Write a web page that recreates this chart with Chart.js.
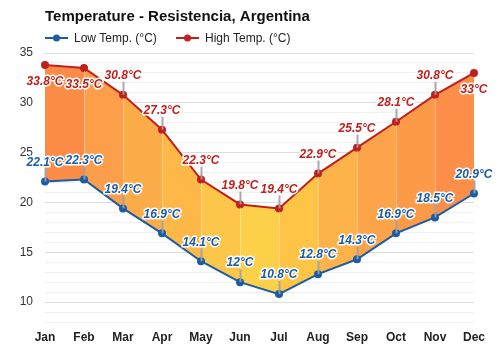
<!DOCTYPE html>
<html>
<head>
<meta charset="utf-8">
<script src="https://cdn.jsdelivr.net/npm/chart.js@4"></script>
<style>
html,body{margin:0;padding:0;background:#fff;}
#wrap{width:500px;height:350px;position:relative;}
</style>
</head>
<body>
<div id="wrap"><canvas id="c"></canvas></div>
<script>
const months = ['Jan','Feb','Mar','Apr','May','Jun','Jul','Aug','Sep','Oct','Nov','Dec'];
const lowTemps = [22.1, 22.3, 19.4, 16.9, 14.1, 12, 10.8, 12.8, 14.3, 16.9, 18.5, 20.9];
const highTemps = [33.8, 33.5, 30.8, 27.3, 22.3, 19.8, 19.4, 22.9, 25.5, 28.1, 30.8, 33];
const lowLabels = ['22.1°C','22.3°C','19.4°C','16.9°C','14.1°C','12°C','10.8°C','12.8°C','14.3°C','16.9°C','18.5°C','20.9°C'];
const highLabels = ['33.8°C','33.5°C','30.8°C','27.3°C','22.3°C','19.8°C','19.4°C','22.9°C','25.5°C','28.1°C','30.8°C','33°C'];
const highBelow = [true, true, false, false, false, false, false, false, false, false, false, true];
const bandColors = ['#fb8c46','#fd9e4a','#fdac4a','#fdb848','#fcc64a','#fdd04a','#fec445','#fdb34a','#fda44a','#fc9a48','#fb8f4a'];
const yTickValues = [10, 15, 20, 25, 30, 35];

const LOW_COLOR = '#1a5da6';
const HIGH_COLOR = '#c0201e';
const FONT = '"Liberation Sans", Arial, sans-serif';

function bandGradient(ctx) {
  const chart = ctx.chart;
  const a = chart.chartArea;
  if (!a) return bandColors[0];
  const g = chart.ctx.createLinearGradient(a.left, 0, a.right, 0);
  const n = bandColors.length;
  bandColors.forEach((c, i) => {
    g.addColorStop(i / n, c);
    g.addColorStop(Math.max(i / n, (i + 1) / n - 0.0005), c);
  });
  return g;
}

const overlayPlugin = {
  id: 'overlay',
  afterDatasetsDraw(chart) {
    const ctx = chart.ctx;
    const xs = chart.scales.x, ys = chart.scales.y;
    ctx.save();
    ctx.strokeStyle = 'rgba(255,255,255,0.35)';
    ctx.lineWidth = 1;
    for (let i = 1; i < months.length - 1; i++) {
      const x = Math.round(xs.getPixelForValue(i)) + 0.5;
      ctx.beginPath();
      ctx.moveTo(x, ys.getPixelForValue(highTemps[i]) + 3);
      ctx.lineTo(x, ys.getPixelForValue(lowTemps[i]) - 3);
      ctx.stroke();
    }
    ctx.strokeStyle = 'rgba(160,160,160,0.9)';
    ctx.lineWidth = 2;
    for (let i = 0; i < months.length; i++) {
      const x = Math.round(xs.getPixelForValue(i)) + 0.5;
      if (!highBelow[i]) {
        const y = ys.getPixelForValue(highTemps[i]);
        ctx.beginPath(); ctx.moveTo(x, y); ctx.lineTo(x, y - 13); ctx.stroke();
      }
      const yl = ys.getPixelForValue(lowTemps[i]);
      ctx.beginPath(); ctx.moveTo(x, yl); ctx.lineTo(x, yl - 13); ctx.stroke();
    }
    ctx.restore();
  },
  afterDraw(chart) {
    const ctx = chart.ctx;
    const xs = chart.scales.x, ys = chart.scales.y;
    ctx.save();
    ctx.font = 'italic bold 12px ' + FONT;
    ctx.textAlign = 'center';
    ctx.textBaseline = 'middle';
    ctx.lineJoin = 'round';
    ctx.lineWidth = 3;
    ctx.strokeStyle = '#ffffff';
    for (let i = 0; i < months.length; i++) {
      const x = xs.getPixelForValue(i);
      const yh = ys.getPixelForValue(highTemps[i]);
      const th = highBelow[i] ? yh + 17 : yh - 19;
      ctx.strokeText(highLabels[i], x, th);
      ctx.fillStyle = HIGH_COLOR;
      ctx.fillText(highLabels[i], x, th);
      const yl = ys.getPixelForValue(lowTemps[i]);
      const tl = yl - 19;
      ctx.strokeText(lowLabels[i], x, tl);
      ctx.fillStyle = LOW_COLOR;
      ctx.fillText(lowLabels[i], x, tl);
    }
    ctx.textAlign = 'left';
    ctx.font = 'bold 15px ' + FONT;
    ctx.fillStyle = '#111';
    ctx.fillText('Temperature - Resistencia, Argentina', 45, 17);
    ctx.font = '12px ' + FONT;
    const items = [
      { label: chart.data.datasets[0].label, color: LOW_COLOR, x: 45 },
      { label: chart.data.datasets[1].label, color: HIGH_COLOR, x: 176 }
    ];
    items.forEach(it => {
      ctx.strokeStyle = it.color; ctx.lineWidth = 2;
      ctx.beginPath(); ctx.moveTo(it.x, 38); ctx.lineTo(it.x + 23, 38); ctx.stroke();
      ctx.fillStyle = it.color;
      ctx.beginPath(); ctx.arc(it.x + 11.5, 38, 3.5, 0, Math.PI * 2); ctx.fill();
      ctx.fillStyle = '#222';
      ctx.fillText(it.label, it.x + 29, 38.5);
    });
    ctx.restore();
  }
};

new Chart(document.getElementById('c'), {
  type: 'line',
  data: {
    labels: months,
    datasets: [
      {
        label: 'Low Temp. (°C)',
        data: lowTemps,
        borderColor: LOW_COLOR,
        backgroundColor: LOW_COLOR,
        pointBackgroundColor: LOW_COLOR,
        pointBorderColor: LOW_COLOR,
        borderWidth: 2,
        pointRadius: 3,
        fill: false,
        tension: 0
      },
      {
        label: 'High Temp. (°C)',
        data: highTemps,
        borderColor: HIGH_COLOR,
        backgroundColor: bandGradient,
        pointBackgroundColor: HIGH_COLOR,
        pointBorderColor: HIGH_COLOR,
        borderWidth: 2,
        pointRadius: 3,
        fill: '-1',
        tension: 0
      }
    ]
  },
  options: {
    responsive: true,
    maintainAspectRatio: false,
    animation: false,
    layout: { padding: { top: 53, right: 26, bottom: 0, left: 0 } },
    plugins: {
      legend: { display: false },
      title: { display: false },
      tooltip: { enabled: false },
      filler: { propagate: false }
    },
    scales: {
      x: {
        offset: false,
        afterFit(scale) { scale.height = 28; },
        grid: { display: false, drawTicks: false },
        border: { display: false },
        ticks: {
          padding: 8,
          color: '#222',
          font: { family: FONT, size: 12, weight: 'bold' },
          maxRotation: 0, autoSkip: false
        }
      },
      y: {
        min: 8,
        max: 35,
        afterFit(scale) { scale.width = 45; },
        grid: {
          drawTicks: false,
          color: (c) => (c.tick && yTickValues.includes(c.tick.value)) ? '#dcdcdc' : '#efefef',
          lineWidth: 1
        },
        border: { display: false },
        ticks: {
          stepSize: 1,
          autoSkip: false,
          padding: 12,
          color: '#333',
          font: { family: FONT, size: 12 },
          callback: (v) => yTickValues.includes(v) ? String(v) : ''
        }
      }
    }
  },
  plugins: [overlayPlugin]
});
</script>
</body>
</html>
